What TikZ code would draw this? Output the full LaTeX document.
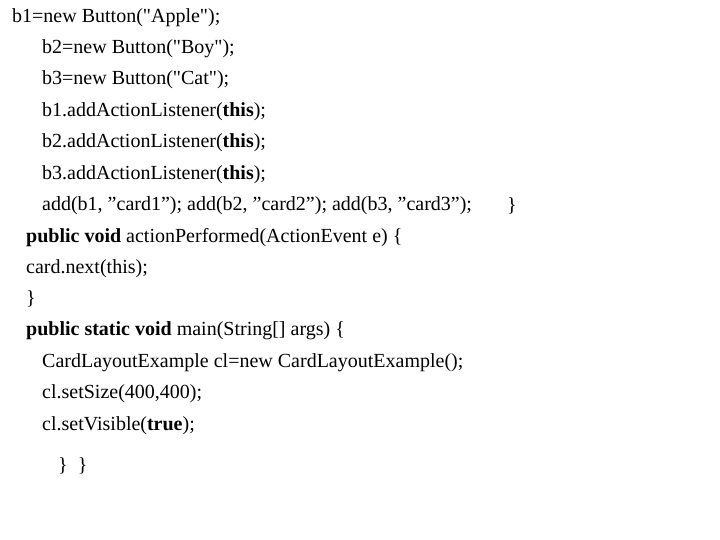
\documentclass[tikz,border=0pt]{standalone}
\usepackage{fontspec}
\setmainfont{Liberation Serif}
\usetikzlibrary{positioning}
\tikzset{codeline/.style={anchor=west,inner sep=0pt,font=\fontsize{20pt}{23pt}\selectfont}}
\begin{document}
\begin{tikzpicture}[x=1pt,y=-1pt]
  \useasboundingbox (0,0) rectangle (720,540);
  \node[codeline] (l1) at (12,18) {b1=new Button(\textquotedbl Apple\textquotedbl);};
  \node[codeline] (l2) at (42,49) {b2=new Button(\textquotedbl Boy\textquotedbl);};
  \node[codeline] (l3) at (42,80) {b3=new Button(\textquotedbl Cat\textquotedbl);};
  \node[codeline] (l4) at (42,112) {b1.addActionListener(\textbf{this});};
  \node[codeline] (l5) at (42,143) {b2.addActionListener(\textbf{this});};
  \node[codeline] (l6) at (42,175) {b3.addActionListener(\textbf{this});};
  \node[codeline] (l7) at (42,206) {add(b1, ”card1”); add(b2, ”card2”); add(b3, ”card3”);};
  \node[codeline] (r7) at (507,206) {\}};
  \node[codeline] (l8) at (26,238) {\textbf{public void} actionPerformed(ActionEvent e) \{};
  \node[codeline] (l9) at (26,269) {card.next(this);};
  \node[codeline] (l10) at (26,299) {\}};
  \node[codeline] (l11) at (26,331) {\textbf{public static void} main(String[] args) \{};
  \node[codeline] (l12) at (42,363) {CardLayoutExample cl=new CardLayoutExample();};
  \node[codeline] (l13) at (42,394) {cl.setSize(400,400);};
  \node[codeline] (l14) at (42,426) {cl.setVisible(\textbf{true});};
  \node[codeline] (l15) at (58,466) {\}\ \ \}};
\end{tikzpicture}
\end{document}
